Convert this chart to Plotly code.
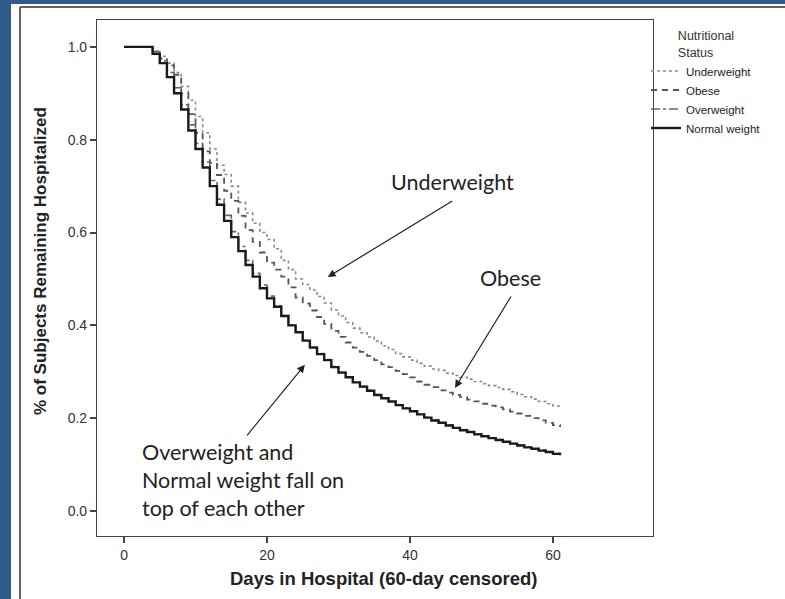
import plotly.graph_objects as go

days = list(range(0, 62))

normal = [1.0, 1.0, 1.0, 1.0, 0.985, 0.965, 0.935, 0.90, 0.865, 0.82, 0.78, 0.74, 0.70, 0.66, 0.625, 0.59,
          0.56, 0.53, 0.505, 0.48, 0.458, 0.44, 0.42, 0.40, 0.385, 0.367, 0.352, 0.338, 0.325, 0.31, 0.298,
          0.288, 0.277, 0.268, 0.259, 0.25, 0.243, 0.236, 0.228, 0.221, 0.215, 0.208, 0.201, 0.195, 0.19,
          0.184, 0.179, 0.174, 0.17, 0.165, 0.161, 0.157, 0.153, 0.149, 0.145, 0.141, 0.137, 0.134, 0.13,
          0.127, 0.123, 0.12]

overweight = [1.0, 1.0, 1.0, 1.0, 0.99, 0.97, 0.945, 0.912, 0.875, 0.832, 0.792, 0.752, 0.712, 0.672, 0.637, 0.602,
              0.57, 0.54, 0.512, 0.487, 0.463, 0.442, 0.421, 0.401, 0.386, 0.368, 0.353, 0.339, 0.326, 0.311,
              0.299, 0.288, 0.278, 0.268, 0.26, 0.251, 0.243, 0.236, 0.229, 0.222, 0.215, 0.209, 0.202, 0.196,
              0.19, 0.185, 0.179, 0.175, 0.17, 0.166, 0.161, 0.157, 0.154, 0.149, 0.145, 0.142, 0.138, 0.134,
              0.131, 0.127, 0.124, 0.121]

obese = [1.0, 1.0, 1.0, 1.0, 0.99, 0.975, 0.96, 0.94, 0.90, 0.855, 0.815, 0.775, 0.75, 0.724, 0.69, 0.668,
         0.636, 0.605, 0.58, 0.557, 0.535, 0.52, 0.505, 0.482, 0.46, 0.447, 0.432, 0.418, 0.403, 0.388, 0.375,
         0.363, 0.352, 0.343, 0.334, 0.325, 0.316, 0.31, 0.302, 0.295, 0.288, 0.279, 0.272, 0.267, 0.26,
         0.255, 0.25, 0.246, 0.24, 0.236, 0.231, 0.227, 0.223, 0.219, 0.214, 0.21, 0.205, 0.2, 0.195, 0.19,
         0.185, 0.181]

underweight = [1.0, 1.0, 1.0, 1.0, 0.99, 0.98, 0.965, 0.945, 0.915, 0.885, 0.85, 0.815, 0.78, 0.745, 0.725,
               0.70, 0.665, 0.642, 0.62, 0.60, 0.585, 0.565, 0.54, 0.52, 0.50, 0.488, 0.476, 0.462, 0.448,
               0.433, 0.42, 0.406, 0.394, 0.384, 0.375, 0.366, 0.356, 0.348, 0.339, 0.332, 0.325, 0.318,
               0.312, 0.306, 0.303, 0.297, 0.292, 0.288, 0.284, 0.279, 0.274, 0.27, 0.266, 0.262, 0.257,
               0.251, 0.246, 0.241, 0.236, 0.231, 0.226, 0.222]

x_ticks = [0, 20, 40, 60]
y_ticks = [0.0, 0.2, 0.4, 0.6, 0.8, 1.0]

fig = go.Figure()
fig.add_trace(go.Scatter(x=days, y=underweight, name="Underweight", mode="lines", line_shape="hv",
                         line=dict(color="#8a8a8a", width=1.6, dash="dot")))
fig.add_trace(go.Scatter(x=days, y=obese, name="Obese", mode="lines", line_shape="hv",
                         line=dict(color="#555555", width=1.8, dash="6px,5px")))
fig.add_trace(go.Scatter(x=days, y=overweight, name="Overweight", mode="lines", line_shape="hv",
                         line=dict(color="#666666", width=1.6, dash="dashdot")))
fig.add_trace(go.Scatter(x=days, y=normal, name="Normal weight", mode="lines", line_shape="hv",
                         line=dict(color="#1a1a1a", width=2.4)))

L, R, T, B = 97, 132, 20, 63
W, H = 785 - L - R, 599 - T - B

def px(xp):
    return (xp - L) / W

def py(yp):
    return (599 - B - yp) / H

blue = "#2f5a8e"
shapes = [
    dict(type="rect", xref="paper", yref="paper", x0=px(11), x1=px(790), y0=py(4), y1=py(605),
         fillcolor="white", line=dict(width=0), layer="below"),
    dict(type="line", xref="paper", yref="paper", x0=px(20), x1=px(20), y0=py(7), y1=py(605),
         line=dict(color="#333333", width=1.5)),
    dict(type="line", xref="paper", yref="paper", x0=px(20), x1=px(790), y0=py(7), y1=py(7),
         line=dict(color="#333333", width=1.5)),
]

ann_font = dict(family="Lato, Carlito, Liberation Sans, sans-serif", size=21.5, color="#222222")
title_font_family = "Liberation Sans, Arial, sans-serif"
annotations = [
    dict(x=46.0, y=0.709, xref="x", yref="y", text="Underweight", showarrow=False, font=ann_font),
    dict(x=54.1, y=0.502, xref="x", yref="y", text="Obese", showarrow=False, font=ann_font),
    dict(x=2.3, y=0.067, xref="x", yref="y", xanchor="left", align="left", showarrow=False,
         text="Overweight and<br>Normal weight fall on<br>top of each other", font=ann_font),
    dict(x=28.5, y=0.504, xref="x", yref="y", ax=126, ay=-77, text="", showarrow=True,
         arrowhead=2, arrowsize=1.3, arrowwidth=1.2, arrowcolor="#222222", standoff=0),
    dict(x=46.3, y=0.265, xref="x", yref="y", ax=57, ay=-93, text="", showarrow=True,
         arrowhead=2, arrowsize=1.3, arrowwidth=1.2, arrowcolor="#222222", standoff=0),
    dict(x=25.3, y=0.315, xref="x", yref="y", ax=-59, ay=72, text="", showarrow=True,
         arrowhead=2, arrowsize=1.3, arrowwidth=1.2, arrowcolor="#222222", standoff=0),
    dict(x=px(40), y=py(261), xref="paper", yref="paper", xanchor="center", yanchor="middle",
         textangle=-90, showarrow=False,
         text="<b>% of Subjects Remaining Hospitalized</b>",
         font=dict(family=title_font_family, size=17, color="#222222")),
    dict(x=px(383), y=py(578), xref="paper", yref="paper", xanchor="center", yanchor="middle",
         showarrow=False,
         text="<b>Days in Hospital (60-day censored)</b>",
         font=dict(family=title_font_family, size=18.5, color="#222222")),
]

axis_common = dict(showgrid=False, zeroline=False, showline=True, linecolor="#444444", linewidth=1.2,
                   mirror=True, ticks="outside", ticklen=6, tickcolor="#444444", tickwidth=1.5,
                   tickfont=dict(family=title_font_family, size=14, color="#333333"))

fig.update_layout(
    width=785, height=599,
    margin=dict(l=L, r=R, t=T, b=B),
    paper_bgcolor=blue, plot_bgcolor="white",
    showlegend=True,
    legend=dict(x=px(646), y=py(24), xanchor="left", yanchor="top",
                bgcolor="rgba(0,0,0,0)", tracegroupgap=0, itemwidth=30,
                title=dict(text="Nutritional<br>Status", side="top center",
                           font=dict(family=title_font_family, size=12.5, color="#333333")),
                font=dict(family=title_font_family, size=11.5, color="#222222")),
    shapes=shapes,
    annotations=annotations,
    xaxis=dict(range=[-3.78, 74.0], tickvals=x_ticks, **axis_common),
    yaxis=dict(range=[-0.054, 1.058], tickvals=y_ticks, tickformat=".1f", **axis_common),
)

fig.write_html("out.html")
